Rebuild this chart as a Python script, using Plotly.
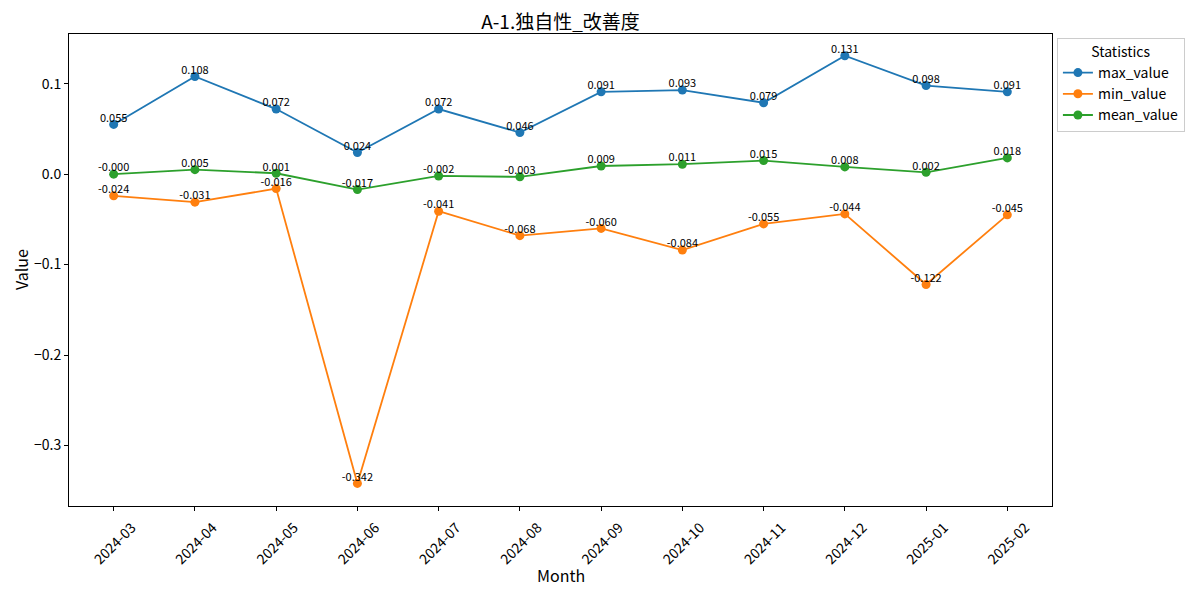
import plotly.graph_objects as go

months = ["2024-03", "2024-04", "2024-05", "2024-06", "2024-07", "2024-08",
          "2024-09", "2024-10", "2024-11", "2024-12", "2025-01", "2025-02"]
max_value = [0.055, 0.108, 0.072, 0.024, 0.072, 0.046, 0.091, 0.093, 0.079, 0.131, 0.098, 0.091]
min_value = [-0.024, -0.031, -0.016, -0.342, -0.041, -0.068, -0.060, -0.084, -0.055, -0.044, -0.122, -0.045]
mean_value = [-0.000, 0.005, 0.001, -0.017, -0.002, -0.003, 0.009, 0.011, 0.015, 0.008, 0.002, 0.018]
mean_labels = ["-0.000", "0.005", "0.001", "-0.017", "-0.002", "-0.003", "0.009", "0.011", "0.015", "0.008", "0.002", "0.018"]

FONT = "Noto Sans CJK JP"
series = [
    ("max_value", max_value, None, "#1f77b4"),
    ("min_value", min_value, None, "#ff7f0e"),
    ("mean_value", mean_value, mean_labels, "#2ca02c"),
]

fig = go.Figure()
for name, vals, labels, color in series:
    fig.add_trace(go.Scatter(
        x=months, y=vals, name=name, mode="lines+markers",
        line=dict(color=color, width=1.8),
        marker=dict(color=color, size=9),
    ))
for name, vals, labels, color in series:
    txt = labels if labels else [f"{v:.3f}" for v in vals]
    fig.add_trace(go.Scatter(
        x=months, y=vals, mode="text", showlegend=False, hoverinfo="skip",
        text=txt, textposition="top center",
        textfont=dict(family=FONT, size=11, color="black"),
        cliponaxis=False,
    ))

fig.update_layout(
    width=1200, height=595,
    margin=dict(l=61, r=156, t=26, b=97),
    paper_bgcolor="white", plot_bgcolor="white",
    font=dict(family=FONT, color="black", size=14),
    title=dict(text="A-1.独自性_改善度", x=0.5, xanchor="center", xref="paper",
               y=1 - 14 / 595, yanchor="middle", font=dict(family=FONT, size=19)),
    legend=dict(
        title=dict(text="Statistics", side="top center", font=dict(size=14)),
        x=1.005, xanchor="left", y=0.992, yanchor="top",
        bordercolor="#cccccc", borderwidth=1, bgcolor="white",
        font=dict(size=14), tracegroupgap=0,
    ),
    xaxis=dict(
        type="category", range=[-0.55, 11.55], automargin=False,
        tickangle=-45, ticks="outside", ticklen=4, tickcolor="black",
        ticklabelshift=18, ticklabelstandoff=3,
        showline=True, linecolor="black", linewidth=1, mirror=True,
        showgrid=False, zeroline=False, tickfont=dict(size=14),
    ),
    yaxis=dict(
        range=[-0.367, 0.155], automargin=False,
        tickvals=[-0.3, -0.2, -0.1, 0.0, 0.1],
        ticktext=["\u22120.3", "\u22120.2", "\u22120.1", "0.0", "0.1"],
        ticks="outside", ticklen=4, tickcolor="black",
        showline=True, linecolor="black", linewidth=1, mirror=True,
        showgrid=False, zeroline=False, tickfont=dict(size=14),
    ),
    annotations=[
        dict(text="Month", xref="paper", yref="paper", x=0.5, y=(498 - 567) / 472,
             xanchor="center", yanchor="middle", showarrow=False,
             font=dict(size=16)),
        dict(text="Value", xref="paper", yref="paper", x=(13 - 61) / 984, y=0.5,
             xanchor="center", yanchor="middle", showarrow=False, textangle=-90,
             font=dict(size=16)),
    ],
)

fig.write_html("out.html")
